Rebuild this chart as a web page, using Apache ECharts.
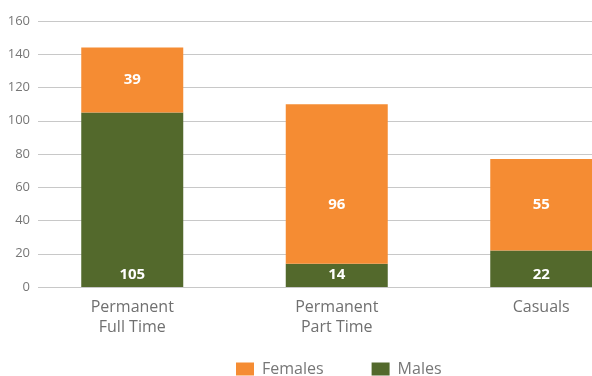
<!DOCTYPE html>
<html>
<head>
<meta charset="utf-8">
<script src="https://cdn.jsdelivr.net/npm/echarts@6/dist/echarts.min.js"></script>
<style>
  html, body { margin: 0; padding: 0; background: #fff; }
  #chart { width: 592px; height: 376px; }
</style>
</head>
<body>
<div id="chart"></div>
<script>
// Employment type headcount by gender
const categories = ['Permanent\nFull Time', 'Permanent\nPart Time', 'Casuals'];
const females = [39, 96, 55];
const males = [105, 14, 22];
const yTicks = { min: 0, max: 160, interval: 20 };

const ORANGE = '#F58C33';
const GREEN = '#53692C';
const FONT = '"Open Sans", "Noto Sans", sans-serif';

const chart = echarts.init(document.getElementById('chart'), null, { renderer: 'canvas' });

const valueAxisBase = {
  type: 'value',
  min: yTicks.min,
  max: yTicks.max,
  interval: yTicks.interval
};

// the middle column's female label sits lower in its segment
const femaleData = females.map((v, i) =>
  i === 1 ? { value: v, label: { offset: [0, 21] } } : v
);

chart.setOption({
  animation: false,
  textStyle: { fontFamily: FONT },
  grid: [
    // grid for the horizontal rules and tick labels
    { left: 38, right: 0, top: 21, bottom: 89, outerBoundsMode: 'none' },
    // grid carrying the bars (wider bands, running past the right edge)
    { left: 30, width: 613.5, top: 21, bottom: 89, outerBoundsMode: 'none' }
  ],
  xAxis: [
    { type: 'category', gridIndex: 0, data: categories, show: false },
    {
      type: 'category', gridIndex: 1, data: categories,
      axisLine: { show: false }, axisTick: { show: false },
      axisLabel: { color: '#707070', fontSize: 16, lineHeight: 20, margin: 10, fontFamily: FONT }
    }
  ],
  yAxis: [
    Object.assign({}, valueAxisBase, {
      gridIndex: 0,
      axisLine: { show: false }, axisTick: { show: false },
      axisLabel: { color: '#777', fontSize: 13, margin: 8, fontFamily: FONT },
      splitLine: { lineStyle: { color: '#c8c8c8', width: 1 } }
    }),
    Object.assign({}, valueAxisBase, {
      gridIndex: 1, show: false, splitLine: { show: false }
    })
  ],
  legend: {
    top: 356,
    left: 231,
    itemWidth: 18,
    itemHeight: 13,
    itemGap: 48,
    icon: 'rect',
    textStyle: { color: '#777', fontSize: 16, fontFamily: FONT, padding: [0, 0, 0, 3] },
    data: ['Females', 'Males']
  },
  series: [
    {
      name: 'Males', type: 'bar', stack: 'total',
      xAxisIndex: 1, yAxisIndex: 1,
      barWidth: 102,
      itemStyle: { color: GREEN },
      label: {
        show: true, position: 'insideBottom', distance: 5,
        color: '#fff', fontWeight: 'bold', fontSize: 15, fontFamily: FONT
      },
      data: males
    },
    {
      name: 'Females', type: 'bar', stack: 'total',
      xAxisIndex: 1, yAxisIndex: 1,
      barWidth: 102,
      itemStyle: { color: ORANGE },
      label: {
        show: true, position: 'inside',
        color: '#fff', fontWeight: 'bold', fontSize: 15, fontFamily: FONT
      },
      data: femaleData
    }
  ]
});
</script>
</body>
</html>
